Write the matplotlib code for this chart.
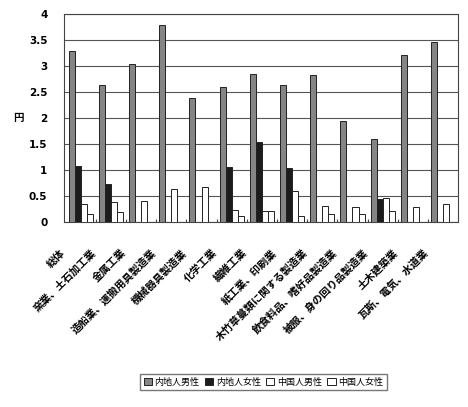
import matplotlib
matplotlib.use('Agg')
import matplotlib.pyplot as plt
import numpy as np

plt.rcParams['font.family'] = ['Noto Sans CJK JP', 'DejaVu Sans']

categories = ['総体', '窯業、土石加工業', '金属工業', '造船業、運搬用具製造業', '機械器具製造業',
              '化学工業', '繊維工業', '紙工業、印刷業', '木竹草蔓類に関する製造業',
              '飲食料品、嗜好品製造業', '被服、身の回り品製造業', '土木建築業', '瓦斯、電気、水道業']
naichi_male = [3.28, 2.64, 3.04, 3.78, 2.38, 2.60, 2.85, 2.64, 2.82, 1.94, 1.60, 3.20, 3.46]
naichi_female = [1.07, 0.73, 0, 0, 0, 1.05, 1.53, 1.03, 0, 0, 0.44, 0, 0]
china_male = [0.35, 0.38, 0.40, 0.63, 0.67, 0.24, 0.22, 0.59, 0.30, 0.28, 0.46, 0.28, 0.35]
china_female = [0.16, 0.19, 0, 0, 0, 0.12, 0.21, 0.11, 0.15, 0.15, 0.22, 0, 0]
series_names = ['内地人男性', '内地人女性', '中国人男性', '中国人女性']

fig = plt.figure(figsize=(4.68, 4.07), dpi=100)
ax = fig.add_axes([0.137, 0.4545, 0.842, 0.5115])

x = np.arange(len(categories))
w = 0.2
series = [naichi_male, naichi_female, china_male, china_female]
colors = ['#858585', '#1c1c1c', 'white', 'white']
for i, (vals, c, name) in enumerate(zip(series, colors, series_names)):
    ax.bar(x - 0.3 + i * w, vals, w, color=c, edgecolor='#222222', linewidth=0.7, label=name, zorder=3)

ax.set_ylim(0, 4)
ax.set_xlim(-0.5, len(categories) - 0.5)
ax.set_yticks(np.arange(0, 4.01, 0.5))
ax.set_yticklabels(['0', '0.5', '1', '1.5', '2', '2.5', '3', '3.5', '4'],
                   fontsize=7.5, fontweight='bold', family='DejaVu Sans')
ax.grid(axis='y', color='#555555', linewidth=0.8, zorder=0)
ax.tick_params(axis='y', length=0, pad=12)
ax.set_xticks(x - 0.55)
ax.set_xticklabels(categories, rotation=45, ha='right', va='center', rotation_mode='anchor',
                   fontsize=7.5, fontweight='bold')
ax.tick_params(axis='x', length=0, pad=21)
# small marks between groups
ax.set_xticks(x[1:] - 0.5, minor=True)
ax.tick_params(axis='x', which='minor', direction='in', length=2, width=0.8, color='#444444')
for s in ax.spines.values():
    s.set_color('#444444')
    s.set_linewidth(0.8)

ax.set_ylabel('円', rotation=0, fontsize=7.5, fontweight='bold', ha='center', va='center')
ax.yaxis.set_label_coords(-0.117, 0.5)

fig.legend(loc='center', bbox_to_anchor=(0.563, 0.061), ncol=4, fontsize=6.5,
           frameon=True, fancybox=False, edgecolor='#555555', handlelength=0.9,
           handleheight=0.9, handletextpad=0.3, columnspacing=0.6, borderpad=0.4)

plt.savefig('out.png', dpi=100)
